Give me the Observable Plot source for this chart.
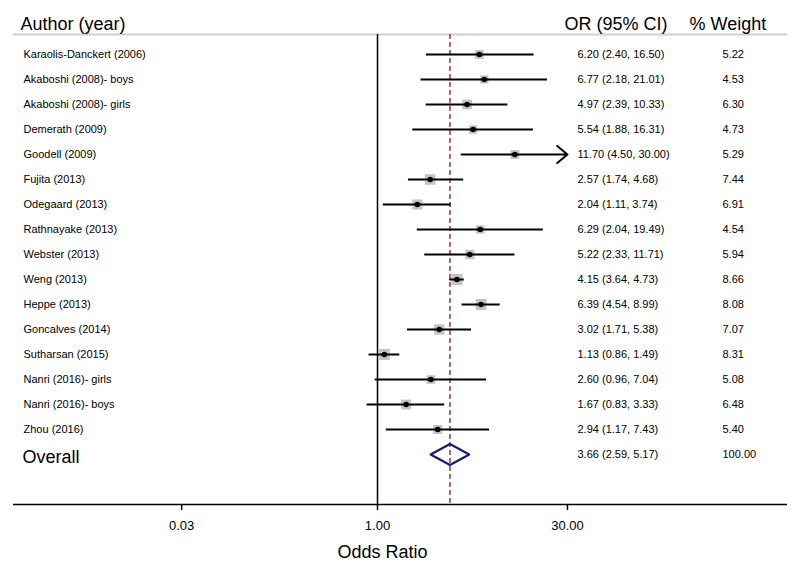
<!DOCTYPE html>
<html>
<head>
<meta charset="utf-8">
<script src="https://cdn.jsdelivr.net/npm/d3@7"></script>
<script src="https://cdn.jsdelivr.net/npm/@observablehq/plot@0.6"></script>
<style>
  html, body { margin: 0; padding: 0; background: #fff; }
  #chart { width: 800px; height: 570px; }
</style>
</head>
<body>
<div id="chart"></div>
<script>
// ---- data ----
const studies = [
  "Karaolis-Danckert (2006)", "Akaboshi (2008)- boys", "Akaboshi (2008)- girls",
  "Demerath (2009)", "Goodell (2009)", "Fujita (2013)", "Odegaard (2013)",
  "Rathnayake (2013)", "Webster (2013)", "Weng (2013)", "Heppe (2013)",
  "Goncalves (2014)", "Sutharsan (2015)", "Nanri (2016)- girls",
  "Nanri (2016)- boys", "Zhou (2016)"
];
const oddsRatio = [6.20, 6.77, 4.97, 5.54, 11.70, 2.57, 2.04, 6.29, 5.22, 4.15, 6.39, 3.02, 1.13, 2.60, 1.67, 2.94];
const ciLower   = [2.40, 2.18, 2.39, 1.88, 4.50, 1.74, 1.11, 2.04, 2.33, 3.64, 4.54, 1.71, 0.86, 0.96, 0.83, 1.17];
const ciUpper   = [16.50, 21.01, 10.33, 16.31, 30.00, 4.68, 3.74, 19.49, 11.71, 4.73, 8.99, 5.38, 1.49, 7.04, 3.33, 7.43];
const weights   = [5.22, 4.53, 6.30, 4.73, 5.29, 7.44, 6.91, 4.54, 5.94, 8.66, 8.08, 7.07, 8.31, 5.08, 6.48, 5.40];
const overallLabel = "Overall";
const overallOR = 3.66, overallLower = 2.59, overallUpper = 5.17, overallWeight = 100.00;
const headers = ["Author (year)", "OR (95% CI)", "% Weight"];
const xTicks = [0.03, 1, 30];
const xTitle = "Odds Ratio";
const axisMax = 30;

// ---- layout (pixels) ----
const W = 800, H = 570;
const mL = 13, mR = 13, mB = 66;
const colLabel = 23, colCI = 577, colWeight = 722;
const hdrLabel = 20, hdrCI = 564, hdrWeight = 689;
const font = "'Liberation Sans', Arial, Helvetica, sans-serif";

const fmt = d3.format(".2f");
const rows = studies.map((s, i) => ({
  row: i, study: s, or: oddsRatio[i], lo: ciLower[i], hi: ciUpper[i], w: weights[i],
  ci: `${fmt(oddsRatio[i])} (${fmt(ciLower[i])}, ${fmt(ciUpper[i])})`,
  wt: fmt(weights[i])
}));
const oRow = studies.length;
const overall = {row: oRow, ci: `${fmt(overallOR)} (${fmt(overallLower)}, ${fmt(overallUpper)})`, wt: fmt(overallWeight)};
const diamond = [
  {x: overallLower, y: oRow}, {x: overallOR, y: oRow - 0.42},
  {x: overallUpper, y: oRow}, {x: overallOR, y: oRow + 0.42},
  {x: overallLower, y: oRow}
];
const hdrRow = -1, lineRow = -0.8, axisRow = 18;

const chart = Plot.plot({
  width: W, height: H,
  marginLeft: mL, marginRight: mR, marginTop: 0, marginBottom: mB,
  style: {fontFamily: font, background: "#fff", color: "#000"},
  x: {type: "log", domain: [0.001477, 1542.5]},
  y: {domain: [-2.16, axisRow], axis: null, reverse: true},
  r: {type: "sqrt", domain: [0, 10], range: [0, 6.9]},
  marks: [
    // header underline
    Plot.ruleY([lineRow], {stroke: "#cfcfcf", strokeWidth: 2}),
    // axis line
    Plot.ruleY([axisRow], {stroke: "#000", strokeWidth: 1.5}),
    // null line
    Plot.ruleX([1], {y1: lineRow, y2: axisRow, stroke: "#000", strokeWidth: 1.5}),
    // overall dashed line
    Plot.ruleX([overallOR], {y1: lineRow, y2: axisRow, stroke: "#a83e4c", strokeWidth: 1.6, strokeDasharray: "5,3"}),
    // weight boxes
    Plot.dot(rows, {x: "or", y: "row", r: "w", symbol: "square", fill: "#c4c4c4", stroke: "none"}),
    // CIs
    Plot.ruleY(rows.filter(d => d.hi < axisMax), {y: "row", x1: "lo", x2: "hi", stroke: "#000", strokeWidth: 2}),
    Plot.arrow(rows.filter(d => d.hi >= axisMax), {x1: "lo", x2: "hi", y1: "row", y2: "row", stroke: "#000", strokeWidth: 2, headLength: 10, headAngle: 80}),
    // point estimates
    Plot.dot(rows, {x: "or", y: "row", r: 2.8, fill: "#000", stroke: "none", symbol: "circle"}),
    // overall diamond
    Plot.line(diamond, {x: "x", y: "y", stroke: "#141870", strokeWidth: 2, curve: "linear"}),
    // text columns
    Plot.text(rows, {y: "row", text: "study", frameAnchor: "left", textAnchor: "start", dx: colLabel - mL, fontSize: 11}),
    Plot.text(rows, {y: "row", text: "ci", frameAnchor: "left", textAnchor: "start", dx: colCI - mL, fontSize: 11}),
    Plot.text(rows, {y: "row", text: "wt", frameAnchor: "left", textAnchor: "start", dx: colWeight - mL, fontSize: 11}),
    Plot.text([overall], {y: "row", text: () => overallLabel, frameAnchor: "left", textAnchor: "start", dx: colLabel - 1 - mL, dy: 3, fontSize: 18}),
    Plot.text([overall], {y: "row", text: "ci", frameAnchor: "left", textAnchor: "start", dx: colCI - mL, fontSize: 11}),
    Plot.text([overall], {y: "row", text: "wt", frameAnchor: "left", textAnchor: "start", dx: colWeight - mL, fontSize: 11}),
    // headers
    Plot.text([headers[0]], {y: [hdrRow], frameAnchor: "left", textAnchor: "start", lineAnchor: "bottom", dx: hdrLabel - mL, fontSize: 18}),
    Plot.text([headers[1]], {y: [hdrRow], frameAnchor: "left", textAnchor: "start", lineAnchor: "bottom", dx: hdrCI - mL, fontSize: 18}),
    Plot.text([headers[2]], {y: [hdrRow], frameAnchor: "left", textAnchor: "start", lineAnchor: "bottom", dx: hdrWeight - mL, fontSize: 18}),
    // x axis ticks and labels
    Plot.axisX({ticks: xTicks, tickFormat: () => "", tickSize: 6, label: null, strokeWidth: 1.5}),
    Plot.text(xTicks, {x: d => d, text: d => fmt(d), frameAnchor: "bottom", lineAnchor: "top", dy: 16, fontSize: 13}),
    Plot.text([xTitle], {frameAnchor: "bottom", dx: -18, dy: 53, lineAnchor: "bottom", fontSize: 18})
  ]
});
document.getElementById("chart").appendChild(chart);
</script>
</body>
</html>
